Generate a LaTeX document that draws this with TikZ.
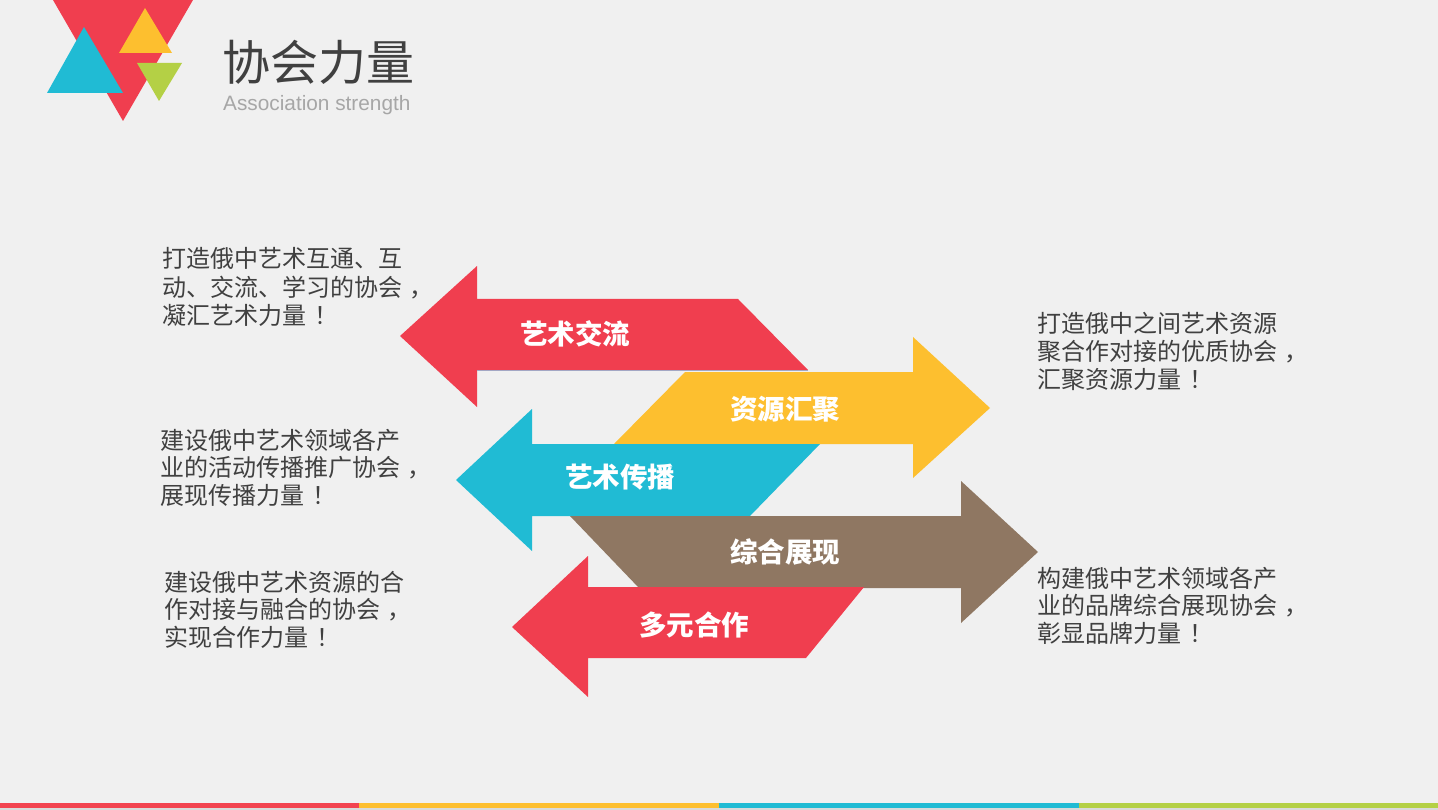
\documentclass[tikz,border=0pt]{standalone}
\usepackage{fontspec}
\setmainfont{Liberation Sans}
\newfontfamily\cjk{Noto Sans CJK SC}
\definecolor{bg}{HTML}{F0F0F0}
\definecolor{cred}{HTML}{F03E4F}
\definecolor{corange}{HTML}{FDBF2F}
\definecolor{ccyan}{HTML}{20BBD4}
\definecolor{cbrown}{HTML}{8F7762}
\definecolor{cgreen}{HTML}{B4D045}
\definecolor{ctext}{HTML}{404040}
\definecolor{csub}{HTML}{A6A6A6}
\definecolor{cshadow}{HTML}{A3A7C4}
\definecolor{cbase}{HTML}{D9D9D9}
\definecolor{cbarred}{HTML}{F2434F}
\newcommand{\pcomma}{\hspace{0.3em}，}
\newcommand{\pexcl}{\hspace{0.35em}！}
\tikzset{
  x=1pt, y=-1pt,
  desc/.style={anchor=west, inner sep=0pt, text=ctext, font=\cjk\fontsize{24}{28}\selectfont, text height=21.1pt, text depth=2.9pt},
  lab/.style={anchor=center, inner sep=0pt, text=white, font=\cjk\bfseries\fontsize{27.5}{30}\selectfont, text height=24.2pt, text depth=3.3pt},
}
\begin{document}
\begin{tikzpicture}
\fill[bg] (0,0) rectangle (1438,810);
\useasboundingbox (0,0) rectangle (1438,810);
% logo
\fill[cred] (53,0) -- (193,0) -- (123,121) -- cycle;
\fill[ccyan] (84,27) -- (123,93) -- (47,93) -- cycle;
\fill[corange] (145,8) -- (172,53) -- (119,53) -- cycle;
\fill[cgreen] (137,63) -- (182,63) -- (159,101) -- cycle;
\node[anchor=west, inner sep=0pt, text=ctext, font=\cjk\fontsize{48}{52}\selectfont, text height=42.2pt, text depth=5.8pt] (title) at (222,62) {协会力量};
\node[anchor=base west, inner sep=0pt, text=csub, font=\fontsize{20.8}{24}\selectfont] (subtitle) at (223,111) {Association strength};
% arrows
\fill[cred] (400,336) -- (477,266) -- (477,299) -- (738,299) -- (808,370) -- (477,370) -- (477,407) -- cycle;
\draw[cshadow, line width=1.2pt] (477,370.6) -- (808,370.6);
\fill[corange] (685,372) -- (913,372) -- (913,337) -- (990,408) -- (913,478) -- (913,444) -- (614,444) -- cycle;
\fill[ccyan] (456,480) -- (532,409) -- (532,444) -- (820,444) -- (750,516) -- (532,516) -- (532,551) -- cycle;
\fill[cbrown] (570,516) -- (961,516) -- (961,481) -- (1038,552) -- (961,623) -- (961,588) -- (639,588) -- cycle;
\fill[cred] (512,627) -- (588,556) -- (588,587) -- (864,587) -- (806,658) -- (588,658) -- (588,697) -- cycle;
% arrow labels
\node[lab] (a1) at (575,334) {艺术交流};
\node[lab] (a2) at (785,409) {资源汇聚};
\node[lab] (a3) at (620,477) {艺术传播};
\node[lab] (a4) at (785,552) {综合展现};
\node[lab] (a5) at (694,625) {多元合作};
% left descriptions
\node[desc] (l1a) at (162,258) {打造俄中艺术互通、互};
\node[desc] (l1b) at (162,287) {动、交流、学习的协会\pcomma};
\node[desc] (l1c) at (162,315) {凝汇艺术力量\pexcl};
\node[desc] (l2a) at (160,440) {建设俄中艺术领域各产};
\node[desc] (l2b) at (160,467) {业的活动传播推广协会\pcomma};
\node[desc] (l2c) at (160,495) {展现传播力量\pexcl};
\node[desc] (l3a) at (164,582) {建设俄中艺术资源的合};
\node[desc] (l3b) at (164,609) {作对接与融合的协会\pcomma};
\node[desc] (l3c) at (164,637) {实现合作力量\pexcl};
% right descriptions
\node[desc] (r1a) at (1037,323) {打造俄中之间艺术资源};
\node[desc] (r1b) at (1037,351) {聚合作对接的优质协会\pcomma};
\node[desc] (r1c) at (1037,379) {汇聚资源力量\pexcl};
\node[desc] (r2a) at (1037,578) {构建俄中艺术领域各产};
\node[desc] (r2b) at (1037,605) {业的品牌综合展现协会\pcomma};
\node[desc] (r2c) at (1037,633) {彰显品牌力量\pexcl};
% bottom bar
\fill[cbase] (0,808) rectangle (1438,810);
\fill[cbarred] (0,803) rectangle (359,808);
\fill[corange] (359,803) rectangle (719,808);
\fill[ccyan] (719,803) rectangle (1079,808);
\fill[cgreen] (1079,803) rectangle (1438,808);
\end{tikzpicture}
\end{document}
